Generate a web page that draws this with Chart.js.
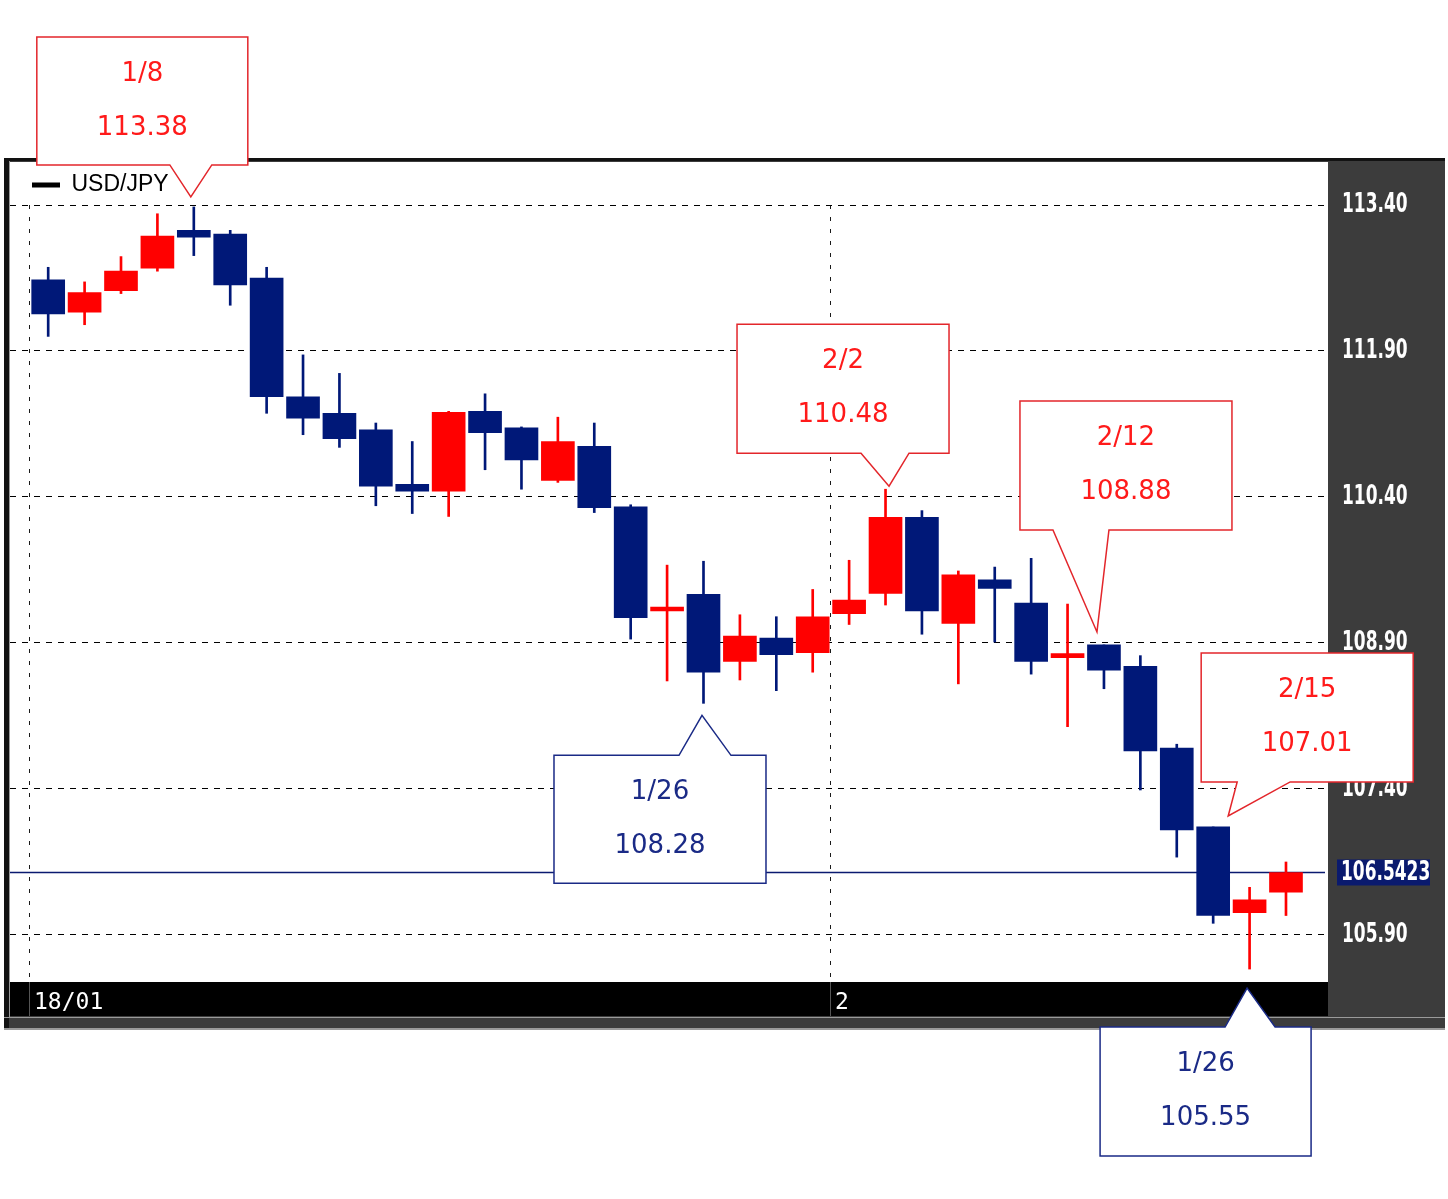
<!DOCTYPE html>
<html>
<head>
<meta charset="utf-8">
<script src="https://cdn.jsdelivr.net/npm/chart.js@4.4.1/dist/chart.umd.min.js"></script>
<style>
html, body { margin: 0; padding: 0; background: #fff; overflow: hidden; }
#wrap { position: relative; width: 1448px; height: 1199px; }
</style>
</head>
<body>
<div id="wrap"><canvas id="myChart"></canvas></div>
<script>
// daily USD/JPY candles, 2018/01/02 - 2018/02/19
var dates = ['1/2','1/3','1/4','1/5','1/8','1/9','1/10','1/11','1/12','1/15','1/16','1/17','1/18','1/19',
    '1/22','1/23','1/24','1/25','1/26','1/29','1/30','1/31','2/1','2/2','2/5','2/6','2/7','2/8','2/9',
    '2/12','2/13','2/14','2/15','2/16','2/19'];
var open  = [112.63,112.30,112.52,112.75,113.14,113.10,112.65,111.43,111.26,111.09,110.53,110.46,111.28,111.11,
    110.57,110.92,110.30,109.23,109.40,108.71,108.95,108.80,109.20,109.41,110.19,109.10,109.55,109.31,108.75,
    108.88,108.66,107.82,107.01,106.13,106.34];
var high  = [112.76,112.61,112.87,113.31,113.38,113.14,112.76,111.86,111.67,111.16,110.97,111.28,111.46,111.12,
    111.22,111.16,110.32,109.70,109.74,109.19,109.17,109.45,109.75,110.48,110.26,109.64,109.68,109.77,109.30,
    108.88,108.77,107.86,107.01,106.39,106.65];
var low   = [112.05,112.17,112.49,112.72,112.88,112.37,111.26,111.04,110.91,110.31,110.23,110.20,110.68,110.48,
    110.55,110.24,108.94,108.51,108.28,108.52,108.41,108.60,109.09,109.29,108.99,108.48,108.91,108.58,108.04,
    108.43,107.39,106.70,106.02,105.55,106.10];
var close = [112.28,112.50,112.72,113.08,113.07,112.58,111.43,111.21,111.00,110.51,110.46,111.27,111.06,110.78,
    110.97,110.29,109.16,109.27,108.60,108.97,108.78,109.17,109.34,110.19,109.23,109.60,109.46,108.71,108.79,
    108.62,107.79,106.98,106.10,106.26,106.5423];

var yTicks = [105.90, 107.40, 108.90, 110.40, 111.90, 113.40];
var monthStart = [0, 22];
var monthLabels = ['18/01', '2'];

// callouts
var noteIndex = [4, 23, 29, 32, 18, 33];
var noteDate  = ['1/8', '2/2', '2/12', '2/15', '1/26', '1/26'];
var notePrice = [113.38, 110.48, 108.88, 107.01, 108.28, 105.55];
var noteHigh  = [true, true, true, true, false, false];

var UP = '#ff0000', DOWN = '#001878';
var NAVY = '#1a2a86';
var SQUEEZE = 0.7; // the price axis font is a narrow one

// box placement relative to the pointer tip
var noteBox = [
    {tx: -3,   ty: -10, l: -154, t: -160, w: 211, h: 128, p1: -21, p2: 21},
    {tx: 3.5,  ty: -3,  l: -152, t: -162, w: 212, h: 129, p1: -28, p2: 20},
    {tx: -7,   ty: -13, l: -77,  t: -231, w: 212, h: 129, p1: -44, p2: 12},
    {tx: 15,   ty: -11, l: -27,  t: -163, w: 212, h: 129, p1: 9,   p2: 62},
    {tx: -1.5, ty: 12,  l: -148, t: 40,   w: 212, h: 128, p1: -23, p2: 29},
    {tx: -2.5, ty: 19,  l: -147, t: 39,   w: 211, h: 129, p1: -22, p2: 28}
];

var bodies = [], wicks = [], colors = [];
for (let i = 0; i < dates.length; i++) {
    bodies.push({x: i, y: [open[i], close[i]]});
    wicks.push({x: i, y: [low[i], high[i]]});
    colors.push(close[i] >= open[i] ? UP : DOWN);
}

var tickFamily = "'DejaVu Sans Condensed', 'DejaVu Sans', sans-serif";
var tickFont = {family: tickFamily, size: 27, weight: 'bold'};

function squeezeAt(ctx, x0) {
    ctx.translate(x0, 0);
    ctx.scale(SQUEEZE, 1);
    ctx.translate(-x0, 0);
}

var framePlugin = {
    id: 'frame',
    beforeDraw: function(chart) {
        var ctx = chart.ctx, a = chart.chartArea, xs = chart.scales.x, ys = chart.scales.y;
        if (!ys._squeezed) {
            var orig = ys.drawLabels;
            ys.drawLabels = function(area) {
                this.ctx.save();
                squeezeAt(this.ctx, this.left + this.options.ticks.padding);
                orig.call(this, area);
                this.ctx.restore();
            };
            ys._squeezed = true;
        }
        ctx.save();
        ctx.fillStyle = '#3c3c3c';
        ctx.fillRect(4, 158, 1441, 872);
        ctx.fillStyle = '#121212';
        ctx.fillRect(4, 158, 1441, 3);
        ctx.fillRect(4, 158, 5, 872);
        ctx.fillStyle = '#9a9a9a';
        ctx.fillRect(9, 161, 1, 856);
        ctx.fillRect(4, 1017, 1441, 1);
        ctx.fillRect(4, 1028, 1441, 2);
        ctx.fillStyle = '#ffffff';
        ctx.fillRect(a.left, 162, a.right - a.left, a.bottom - 162);
        ctx.fillStyle = '#000000';
        ctx.fillRect(a.left, xs.top, a.right - a.left, xs.height);
        ctx.restore();
    },
    beforeDatasetsDraw: function(chart) {
        var ctx = chart.ctx, a = chart.chartArea;
        var y = chart.scales.y.getPixelForValue(close[close.length - 1]);
        ctx.save();
        ctx.strokeStyle = '#0a1a70';
        ctx.lineWidth = 1.5;
        ctx.beginPath();
        ctx.moveTo(a.left, y);
        ctx.lineTo(a.right - 3, y);
        ctx.stroke();
        ctx.restore();
    },
    afterDraw: function(chart) {
        var ctx = chart.ctx, a = chart.chartArea;
        var xs = chart.scales.x, ys = chart.scales.y;
        ctx.save();
        // last price tag
        var last = close[close.length - 1];
        var py = ys.getPixelForValue(last);
        ctx.fillStyle = '#0a1a6e';
        ctx.fillRect(a.right + 9, py - 13, 93, 26);
        ctx.save();
        squeezeAt(ctx, a.right + 13);
        ctx.fillStyle = '#ffffff';
        ctx.font = 'bold 27px ' + tickFamily;
        ctx.textAlign = 'left';
        ctx.textBaseline = 'middle';
        ctx.fillText(last.toFixed(4), a.right + 13, py + 1);
        ctx.restore();

        // callouts
        for (let k = 0; k < noteIndex.length; k++) {
            var b = noteBox[k];
            var tx = xs.getPixelForValue(noteIndex[k]) + b.tx;
            var ty = ys.getPixelForValue(notePrice[k]) + b.ty;
            var L = tx + b.l, T = ty + b.t, R = L + b.w, B = T + b.h;
            var lineCol = noteHigh[k] ? '#e3262b' : NAVY;
            var textCol = noteHigh[k] ? '#ff1a1a' : NAVY;
            ctx.beginPath();
            if (b.t < 0) {
                ctx.moveTo(L, T); ctx.lineTo(R, T); ctx.lineTo(R, B);
                ctx.lineTo(tx + b.p2, B); ctx.lineTo(tx, ty); ctx.lineTo(tx + b.p1, B);
                ctx.lineTo(L, B);
            } else {
                ctx.moveTo(L, T); ctx.lineTo(tx + b.p1, T); ctx.lineTo(tx, ty);
                ctx.lineTo(tx + b.p2, T); ctx.lineTo(R, T); ctx.lineTo(R, B);
                ctx.lineTo(L, B);
            }
            ctx.closePath();
            ctx.fillStyle = '#ffffff';
            ctx.fill();
            ctx.strokeStyle = lineCol;
            ctx.lineWidth = 1.5;
            ctx.stroke();
            ctx.fillStyle = textCol;
            ctx.font = "26px 'DejaVu Sans', Verdana, sans-serif";
            ctx.textAlign = 'center';
            ctx.textBaseline = 'middle';
            ctx.fillText(noteDate[k], L + b.w / 2, T + 37);
            ctx.fillText(notePrice[k].toFixed(2), L + b.w / 2, T + 91);
        }
        ctx.restore();
    }
};

const config = {
    type: 'bar',
    data: {
        datasets: [{
            label: 'USD/JPY',
            data: bodies,
            backgroundColor: colors,
            borderWidth: 0,
            barThickness: 33,
            grouped: false
        }, {
            label: 'wick',
            data: wicks,
            backgroundColor: colors,
            borderWidth: 0,
            barThickness: 2,
            grouped: false
        }]
    },
    options: {
        responsive: true,
        maintainAspectRatio: false,
        animation: false,
        events: [],
        layout: { padding: { left: 10, right: 3, top: 151.5, bottom: 183 } },
        plugins: {
            tooltip: { enabled: false },
            legend: {
                position: 'top',
                align: 'start',
                maxHeight: 53.5,
                labels: {
                    boxWidth: 28,
                    boxHeight: 5,
                    padding: 22,
                    color: '#3a3a3a',
                    font: { family: "'Liberation Sans', Arial, sans-serif", size: 23 },
                    generateLabels: function() {
                        return [{ text: 'USD/JPY', fillStyle: '#000', strokeStyle: '#000', lineWidth: 0, hidden: false, datasetIndex: 0 }];
                    }
                }
            }
        },
        scales: {
            x: {
                type: 'linear',
                position: 'bottom',
                min: -1.049,
                max: 35.154,
                offset: false,
                afterFit: function(scale) { scale.height = 34; },
                afterBuildTicks: function(scale) {
                    scale.ticks = monthStart.map(function(i) { return {value: i - 0.5}; });
                },
                grid: {
                    offset: false,
                    color: '#1a1a1a',
                    lineWidth: 1,
                    drawTicks: true,
                    tickLength: 34,
                    tickColor: '#555555',
                    tickBorderDash: []
                },
                border: { display: false, dash: [4, 8] },
                ticks: {
                    autoSkip: false,
                    maxRotation: 0,
                    align: 'start',
                    labelOffset: 4,
                    padding: -27,
                    color: '#ffffff',
                    font: { family: "'DejaVu Sans Mono', monospace", size: 23 },
                    callback: function(value, index) { return monthLabels[index]; }
                }
            },
            y: {
                position: 'right',
                min: 105.417,
                max: 113.40,
                afterFit: function(scale) { scale.width = 117; },
                afterBuildTicks: function(scale) {
                    scale.ticks = yTicks.map(function(v) { return {value: v}; });
                },
                grid: { color: '#000000', lineWidth: 1, drawTicks: false },
                border: { display: false, dash: [6, 6] },
                ticks: {
                    autoSkip: false,
                    padding: 14,
                    color: '#ffffff',
                    font: tickFont,
                    callback: function(value) { return value.toFixed(2); }
                }
            }
        }
    },
    plugins: [framePlugin]
};

const myChart = new Chart(document.getElementById('myChart'), config);
</script>
</body>
</html>
